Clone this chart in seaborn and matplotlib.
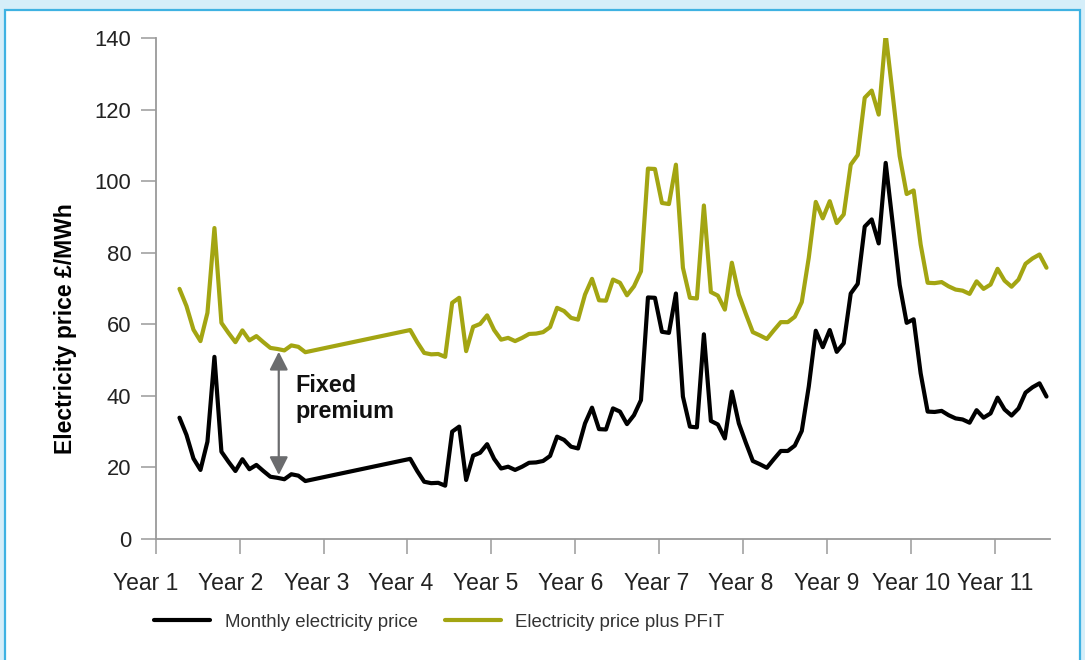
import numpy as np
import pandas as pd
import matplotlib
matplotlib.use("Agg")
import matplotlib.pyplot as plt
import matplotlib.transforms as mtrans
import seaborn as sns
from matplotlib.patches import Rectangle

# ---------------- data ----------------
year_labels = [f"Year {k}" for k in range(1, 12)]
first_obs_month = 3.4          # first observation, months after the "Year 1" tick
gap_start_index = 33           # monthly index at which the second stretch resumes
premium = 36.0                 # fixed premium (PFiT), £/MWh

price_part1 = [33.9, 29.1, 22.5, 19.3, 27.2, 50.9, 24.4, 21.6, 19.0, 22.3,
               19.5, 20.7, 19.0, 17.4, 17.1, 16.7, 18.1, 17.7, 16.2]

price_part2 = [22.4, 19.0, 16.0, 15.6, 15.7, 14.9, 30.0, 31.4, 16.5, 23.3,
               24.1, 26.5, 22.4, 19.7, 20.2, 19.3, 20.2, 21.3, 21.4, 21.8,
               23.2, 28.6, 27.7, 25.8, 25.3, 32.3, 36.7, 30.7, 30.6, 36.5,
               35.6, 32.1, 34.6, 38.8, 67.5, 67.4, 57.9, 57.6, 68.6, 39.8,
               31.4, 31.2, 57.2, 33.0, 32.0, 28.1, 41.2, 32.3, 26.9, 21.8,
               20.9, 19.9, 22.3, 24.6, 24.6, 26.1, 30.2, 42.6, 58.2, 53.6,
               58.4, 52.3, 54.7, 68.6, 71.3, 87.3, 89.3, 82.6, 105.1, 88.2,
               71.0, 60.4, 61.4, 46.3, 35.6, 35.5, 35.8, 34.6, 33.7, 33.4,
               32.5, 36.0, 33.9, 35.1, 39.5, 36.2, 34.5, 36.5, 40.9, 42.4,
               43.5, 39.8]

series_names = ["Monthly electricity price", "Electricity price plus PF\u0131T"]
series_colors = ["#000000", "#a3a512"]

months = np.concatenate([np.arange(len(price_part1)),
                         gap_start_index + np.arange(len(price_part2))]) + first_obs_month
price = np.array(price_part1 + price_part2)

df = pd.concat([
    pd.DataFrame({"month": months, "value": price, "series": series_names[0]}),
    pd.DataFrame({"month": months, "value": price + premium, "series": series_names[1]}),
], ignore_index=True)

# ---------------- style ----------------
sns.set_style("ticks")
plt.rcParams["font.family"] = ["Liberation Sans", "DejaVu Sans"]

W, H = 1085, 660
fig = plt.figure(figsize=(W / 100, H / 100), dpi=100, facecolor="#d5eef9")
fig.add_artist(Rectangle((5 / W, -0.05), 1075 / W, 1 - 10 / H + 0.05,
                         transform=fig.transFigure, facecolor="white",
                         edgecolor="#3fb2e2", lw=1.6, zorder=0))

ax_left, ax_right = 155.7 / W, 1050 / W
ax_bottom, ax_top = 1 - 539 / H, 1 - 38 / H
ax = fig.add_axes([ax_left, ax_bottom, ax_right - ax_left, ax_top - ax_bottom])
ax.set_facecolor("white")

sns.lineplot(data=df, x="month", y="value", hue="series",
             palette=dict(zip(series_names, series_colors)),
             estimator=None, sort=False, lw=3.0, ax=ax, legend=False)

ax.set_xlim(0, 127.9)
ax.set_ylim(0, 140)
ax.set_xticks(np.arange(len(year_labels)) * 12)
ax.set_xticklabels(year_labels)
ax.set_yticks(np.arange(0, 141, 20))

spine_col = "#9a9a9a"
for s in ["top", "right"]:
    ax.spines[s].set_visible(False)
for s in ["left", "bottom"]:
    ax.spines[s].set_color(spine_col)
    ax.spines[s].set_linewidth(1.3)
ax.tick_params(axis="x", length=10.5, width=1.1, color=spine_col, pad=13,
               labelsize=16.5, labelcolor="#222222", direction="out")
ax.tick_params(axis="y", length=10.5, width=1.1, color=spine_col, pad=7,
               labelsize=15.8, labelcolor="#222222", direction="out")

# the original's year labels drift slightly left of their ticks at the start
label_shift_px = [-10, -9, -7, -6.5, -5.5, -4.5, -3, -2, -0.7, 0, 0]
for lab, dx in zip(ax.get_xticklabels(), label_shift_px):
    lab.set_transform(lab.get_transform() +
                      mtrans.ScaledTranslation(dx / 100, 0, fig.dpi_scale_trans))

ax.set_xlabel("")
ax.set_ylabel("Electricity price £/MWh", fontsize=16.5, fontweight="bold", color="black")
ax.yaxis.set_label_coords(-0.088, 0.42)

# fixed premium annotation
arrow_i = 14
ax.annotate("", xy=(months[arrow_i] + 0.2, price[arrow_i]),
            xytext=(months[arrow_i] + 0.2, price[arrow_i] + premium),
            arrowprops=dict(arrowstyle="<|-|>,head_length=0.55,head_width=0.28",
                            color="#6b6c6e", lw=1.6, mutation_scale=20,
                            shrinkA=2, shrinkB=2))
ax.text(20.0, 39.3, "Fixed\npremium", fontsize=16.8, fontweight="bold",
        ha="left", va="center", linespacing=1.2, color="#111111")

# legend
handles = [plt.Line2D([], [], color=c, lw=3.0) for c in series_colors]
fig.legend(handles, series_names, loc="center left",
           bbox_to_anchor=(154 / W, 1 - 622 / H), ncol=2, frameon=False,
           fontsize=13.4, handlelength=3.0, handletextpad=0.8, columnspacing=1.45,
           borderpad=0, borderaxespad=0, labelcolor="#333333")

fig.savefig("out.png", dpi=100, facecolor=fig.get_facecolor())
